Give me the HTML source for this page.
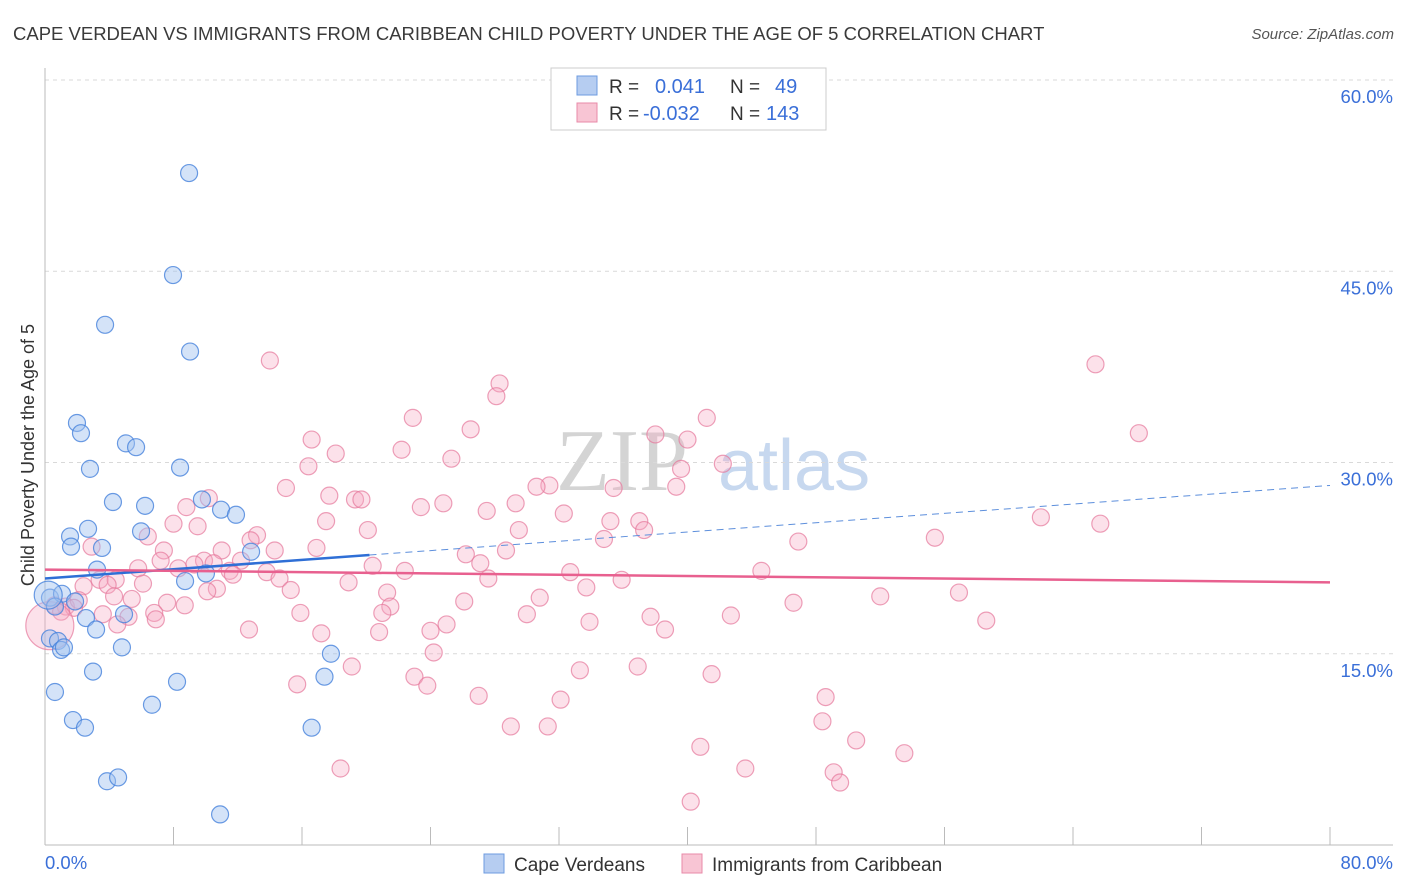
<!DOCTYPE html>
<html><head><meta charset="utf-8"><style>
body{margin:0;background:#fff;font-family:"Liberation Sans",sans-serif}
svg{display:block}
</style></head><body>
<svg id="chart" width="1406" height="892" xmlns="http://www.w3.org/2000/svg" font-family="Liberation Sans, sans-serif">
<text x="13" y="40" font-size="18.5" fill="#3a3a3a">CAPE VERDEAN VS IMMIGRANTS FROM CARIBBEAN CHILD POVERTY UNDER THE AGE OF 5 CORRELATION CHART</text>
<text x="1394" y="39" font-size="15" font-style="italic" fill="#555" text-anchor="end">Source: ZipAtlas.com</text>
<g>
<text x="556" y="490" font-size="88" font-family="Liberation Serif, serif" fill="#d4d4d4">ZIP</text>
<text x="718" y="490" font-size="72" fill="#c7d8ef">atlas</text>
</g>
<g id="grid"></g>
<g id="axes"></g>
<g id="pts"></g>
<g id="trends"></g>
<text transform="translate(34,455) rotate(-90)" font-size="18" fill="#333" text-anchor="middle">Child Poverty Under the Age of 5</text>
<g>
<rect x="551" y="68" width="275" height="62" fill="#fff" stroke="#ccc"/>
<rect x="577" y="76" width="20" height="19" fill="#b6cdf1" stroke="#6d9be0"/>
<rect x="577" y="103" width="20" height="19" fill="#f8c5d4" stroke="#e88aa8"/>
<text x="609" y="93" font-size="19" fill="#333">R =</text>
<text x="655" y="93" font-size="20" fill="#3a6fd8">0.041</text>
<text x="730" y="93" font-size="19" fill="#333">N =</text>
<text x="775" y="93" font-size="20" fill="#3a6fd8">49</text>
<text x="609" y="120" font-size="19" fill="#333">R =</text>
<text x="643" y="120" font-size="20" fill="#3a6fd8">-0.032</text>
<text x="730" y="120" font-size="19" fill="#333">N =</text>
<text x="766" y="120" font-size="20" fill="#3a6fd8">143</text>
</g>
<g>
<rect x="484" y="854" width="20" height="19" fill="#b6cdf1" stroke="#6d9be0"/>
<text x="514" y="871" font-size="19" fill="#333">Cape Verdeans</text>
<rect x="682" y="854" width="20" height="19" fill="#f8c5d4" stroke="#e88aa8"/>
<text x="712" y="871" font-size="19" fill="#333">Immigrants from Caribbean</text>
</g>
</svg>
<script>
const yTicks=[15,30,45,60];
const yTickLabels=["15.0%","30.0%","45.0%","60.0%"];
const xTickVals=[0,8,16,24,32,40,48,56,64,72,80];
const blueX=[8.97,7.97,3.74,9.03,1.99,2.24,5.04,5.67,2.80,8.41,4.23,6.23,9.77,10.96,11.89,2.68,5.98,1.56,1.62,3.55,12.83,3.24,10.02,8.72,0.31,1.06,1.87,0.62,4.92,2.55,3.18,0.31,0.81,1.00,1.18,4.79,17.8,2.99,17.4,8.22,0.62,6.66,1.74,2.49,16.6,3.86,4.55,10.9,0.2];
const blueY=[52.7,44.7,40.8,38.7,33.1,32.3,31.5,31.2,29.5,29.6,26.9,26.6,27.1,26.3,25.9,24.8,24.6,24.2,23.4,23.3,23.0,21.6,21.3,20.7,19.4,19.7,19.1,18.7,18.1,17.8,16.9,16.2,16.0,15.3,15.5,15.5,15.0,13.6,13.2,12.8,12.0,11.0,9.8,9.2,9.2,5.0,5.3,2.4,19.6];
const pinkX=[14.0,65.4,28.3,28.1,22.9,41.2,26.5,16.6,68.1,38.0,22.2,18.1,40.0,25.3,16.4,39.6,42.2,15.0,31.4,30.6,17.7,35.4,19.3,19.7,39.3,10.2,8.8,24.8,23.4,27.5,29.3,32.3,62.0,65.7,35.2,37.0,17.5,8.0,9.5,37.3,29.5,20.1,6.4,13.2,34.8,55.4,46.9,2.9,16.9,7.4,11.0,14.3,28.7,26.2,12.2,9.9,10.5,9.3,27.1,8.3,20.4,5.8,11.5,22.4,32.7,11.7,13.8,44.6,3.4,4.4,14.6,18.9,27.6,35.9,6.1,3.9,2.4,10.7,33.7,10.1,21.3,15.3,56.9,52.0,0.6,1.3,2.1,4.3,5.4,8.7,30.8,26.1,21.5,46.6,7.6,6.8,1.8,3.6,1.0,21.0,15.9,5.2,6.9,4.5,30.0,33.9,37.7,42.7,58.6,25.0,12.7,17.2,20.8,38.6,24.0,24.2,19.1,33.3,36.9,23.0,41.5,15.7,23.8,27.0,32.1,48.6,48.4,29.0,31.3,50.5,40.8,53.5,18.4,43.6,49.1,49.5,40.2,12.8,7.2,0.3];
const pinkY=[38.0,37.7,36.2,35.2,33.5,33.5,32.6,31.8,32.3,32.2,31.0,30.7,31.8,30.3,29.7,29.5,29.9,28.0,28.2,28.1,27.4,28.0,27.1,27.1,28.1,27.2,26.5,26.8,26.5,26.2,26.8,26.0,25.7,25.2,25.4,25.4,25.4,25.2,25.0,24.7,24.7,24.7,24.2,24.3,24.0,24.1,23.8,23.4,23.3,23.1,23.1,23.1,23.1,22.8,22.3,22.3,22.1,22.0,22.1,21.7,21.9,21.7,21.5,21.5,21.4,21.2,21.4,21.5,20.8,20.8,20.9,20.6,20.9,20.8,20.5,20.4,20.3,20.1,20.2,19.9,19.8,20.0,19.8,19.5,18.8,18.7,19.2,19.5,19.3,18.8,19.4,19.1,18.7,19.0,19.0,18.2,18.6,18.1,18.3,18.2,18.2,17.9,17.7,17.3,18.1,17.5,17.9,18.0,17.6,17.3,16.9,16.6,16.7,16.9,16.8,15.1,14.0,13.7,14.0,13.2,13.4,12.6,12.5,11.7,11.4,11.6,9.7,9.3,9.3,8.2,7.7,7.2,6.0,6.0,5.7,4.9,3.4,23.9,22.3,17.2];
const blueTrend=[20.9,28.2];
const pinkTrend=[21.6,20.6];
const blueSolidEnd=20.2;

const NS="http://www.w3.org/2000/svg";
const X=v=>45+v*(1285/80);
const Y=v=>845-v*(765/60);
function mk(tag,attrs,parent){const e=document.createElementNS(NS,tag);for(const k in attrs)e.setAttribute(k,attrs[k]);parent.appendChild(e);return e;}
const grid=document.getElementById('grid'),axes=document.getElementById('axes'),pts=document.getElementById('pts'),tr=document.getElementById('trends');
yTicks.forEach((t,i)=>{
  const l=mk('line',{x1:45,x2:1393,y1:Y(t),y2:Y(t),stroke:'#d9d9d9','stroke-dasharray':'4,4'},grid);
  
  
  const tx=mk('text',{x:1393,y:Y(t)+23,'font-size':18.5,fill:'#3a6fd8','text-anchor':'end'},grid);
  tx.textContent=yTickLabels[i];
  
  
});
const ax=mk('line',{x1:45,x2:45,y1:68,y2:845,stroke:'#bbb'},axes);


const bx=mk('line',{x1:45,x2:1393,y1:845,y2:845,stroke:'#bbb'},axes);


xTickVals.forEach(v=>{
  const t=mk('line',{x1:X(v),x2:X(v),y1:827,y2:845,stroke:'#bbb'},axes);
  
  
});
const xl0=mk('text',{x:45,y:869,'font-size':18.5,fill:'#3a6fd8'},axes);xl0.textContent='0.0%';


const xl1=mk('text',{x:1393,y:869,'font-size':18.5,fill:'#3a6fd8','text-anchor':'end'},axes);xl1.textContent='80.0%';


pinkX.forEach((x,i)=>{
  const c=mk('circle',{cx:X(x),cy:Y(pinkY[i]),r:i==pinkX.length-1?24:8.5,fill:'rgba(245,170,195,0.35)',stroke:'rgba(230,120,155,0.7)','stroke-width':1.2},pts);
  
  
});
blueX.forEach((x,i)=>{
  const c=mk('circle',{cx:X(x),cy:Y(blueY[i]),r:i==blueX.length-1?14:8.5,fill:'rgba(160,192,240,0.45)',stroke:'rgba(70,130,220,0.8)','stroke-width':1.2},pts);
  
  
});
const by=v=>blueTrend[0]+(blueTrend[1]-blueTrend[0])*v/80;
const b1=mk('line',{x1:X(0),y1:Y(by(0)),x2:X(blueSolidEnd),y2:Y(by(blueSolidEnd)),stroke:'#2f6fd6','stroke-width':2.5},tr);


const b2=mk('line',{x1:X(blueSolidEnd),y1:Y(by(blueSolidEnd)),x2:X(80),y2:Y(by(80)),stroke:'#5d8fdc','stroke-width':1,'stroke-dasharray':'7,5'},tr);


const p1=mk('line',{x1:X(0),y1:Y(pinkTrend[0]),x2:X(80),y2:Y(pinkTrend[1]),stroke:'#e8608f','stroke-width':2.5},tr);


</script>
</body></html>
